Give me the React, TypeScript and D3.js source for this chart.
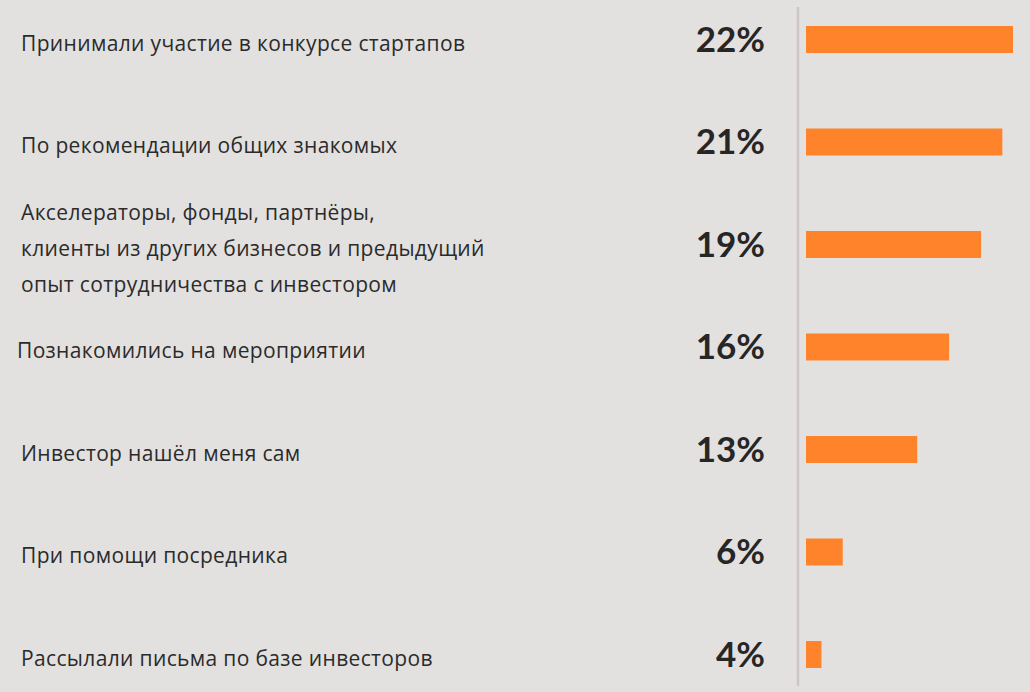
import React from 'react';
import * as d3 from 'd3';

const categories: string[][] = [
  ['Принимали участие в конкурсе стартапов'],
  ['По рекомендации общих знакомых'],
  ['Акселераторы, фонды, партнёры,', 'клиенты из других бизнесов и предыдущий', 'опыт сотрудничества с инвестором'],
  ['Познакомились на мероприятии'],
  ['Инвестор нашёл меня сам'],
  ['При помощи посредника'],
  ['Рассылали письма по базе инвесторов'],
];
const values: number[] = [22, 21, 19, 16, 13, 6, 4];
const valueLabels: string[] = ['22%', '21%', '19%', '16%', '13%', '6%', '4%'];

const width = 1030;
const height = 692;
const axisX = 798;
const barX0 = 806;
const barH = 27;

export default function App() {
  const y = d3.scaleBand<number>()
    .domain(d3.range(values.length))
    .range([-11.75, 705.75])
    .paddingInner(0);
  const x = d3.scaleLinear().domain([2.55, 22]).range([0, 207]);

  return (
    <div style={{ position: 'fixed', left: 0, top: 0 }}>
      <svg width={width} height={height} style={{ display: 'block', background: '#e2e1df' }}>
        <line x1={axisX} x2={axisX} y1={7} y2={686} stroke="#cdc6c6" strokeWidth={2.5} />
        {values.map((v, i) => {
          const cy = (y(i) as number) + y.bandwidth() / 2;
          const lines = categories[i];
          const lh = 36;
          const lx = i === 3 ? 17 : 21;
          return (
            <g key={i}>
              <rect x={barX0} y={cy - barH / 2} width={x(v)} height={barH} fill="#ff832b" />
              <text
                x={765}
                y={cy + 12}
                textAnchor="end"
                fontFamily="Lato, 'Open Sans', sans-serif"
                fontWeight={700}
                fontSize={35}
                fill="#262626"
              >
                {valueLabels[i]}
              </text>
              <text
                fontFamily="'Open Sans', Lato, sans-serif"
                fontSize={21}
                letterSpacing={0.35}
                fill="#2b2b2b"
              >
                {lines.map((l, j) => (
                  <tspan
                    key={j}
                    x={lx}
                    y={cy + 3 + (j - (lines.length - 1) / 2) * lh}
                    dominantBaseline="central"
                  >
                    {l}
                  </tspan>
                ))}
              </text>
            </g>
          );
        })}
      </svg>
    </div>
  );
}
